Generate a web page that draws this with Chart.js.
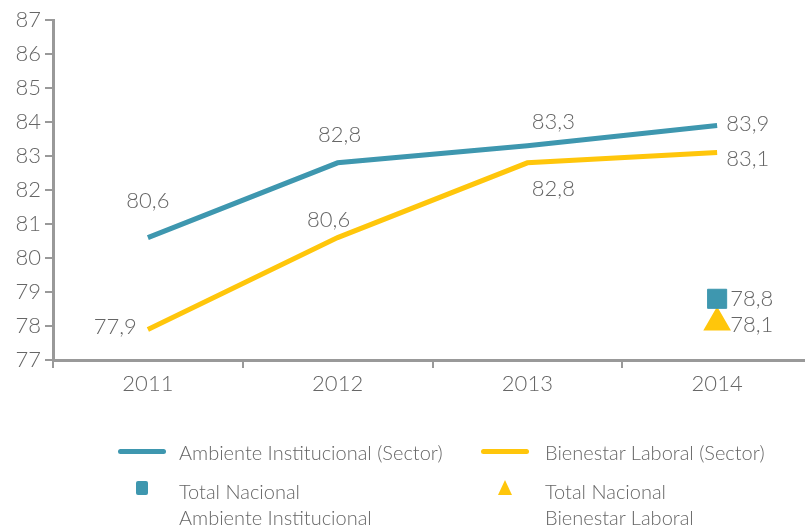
<!DOCTYPE html>
<html lang="es">
<head>
<meta charset="UTF-8">
<title>Ambiente y Bienestar</title>
<style>
  body { margin: 0; background: #fff; font-family: Lato, "Open Sans", sans-serif; font-weight: 300; overflow: hidden; }
  #wrap { position: relative; width: 805px; height: 526px; overflow: hidden; }
  #legend { position: absolute; left: 0; top: 0; width: 805px; height: 526px; pointer-events: none; color: #666; font-size: 20px; }
  .item { position: absolute; line-height: 26px; white-space: nowrap; }
  .swl { position: absolute; height: 5px; border-radius: 3px; }
</style>
</head>
<body>
<div id="wrap">
  <canvas id="myChart" width="828" height="526"></canvas>
  <div id="legend">
    <div class="swl" style="left:118px;top:449px;width:48px;background:#3E97AF"></div>
    <div class="item" style="left:179px;top:439px">Ambiente Institucional (Sector)</div>
    <div class="swl" style="left:481px;top:449px;width:48px;background:#FFC60B"></div>
    <div class="item" style="left:545px;top:439px">Bienestar Laboral (Sector)</div>
    <div style="position:absolute;left:136px;top:481px;width:12px;height:14px;border-radius:2px;background:#3E97AF"></div>
    <div class="item" style="left:179px;top:478px">Total Nacional<br>Ambiente Institucional</div>
    <div style="position:absolute;left:498px;top:480px;width:0;height:0;border-left:7px solid transparent;border-right:7px solid transparent;border-bottom:15px solid #FFC60B"></div>
    <div class="item" style="left:545px;top:478px">Total Nacional<br>Bienestar Laboral</div>
  </div>
</div>
<script src="https://cdn.jsdelivr.net/npm/chart.js"></script>
<script>
var years = ['2011', '2012', '2013', '2014']
var ambienteSector = [80.6, 82.8, 83.3, 83.9]
var bienestarSector = [77.9, 80.6, 82.8, 83.1]
var totalAmbiente = [null, null, null, 78.8]
var totalBienestar = [null, null, null, 78.1]

var teal = '#3E97AF'
var yellow = '#FFC60B'
var grey = '#666'
var fontFam = 'Lato, "Open Sans", sans-serif'

// label offsets per dataset/point: [dx, dy, align]
var labelPos = [
  [[0, -37, 'center'], [2, -28, 'center'], [26, -24, 'center'], [9, -1, 'left']],
  [[-11, -2, 'right'], [-9, -18, 'center'], [26, 26, 'center'], [9, 6, 'left']],
  [null, null, null, [13, 0, 'left']],
  [null, null, null, [13, 2, 'left']]
]

var valueLabels = {
  id: 'valueLabels',
  afterDatasetsDraw(chart) {
    var ctx = chart.ctx
    ctx.save()
    ctx.font = '300 22px ' + fontFam
    ctx.fillStyle = grey
    ctx.textBaseline = 'middle'
    chart.data.datasets.forEach(function (ds, i) {
      var meta = chart.getDatasetMeta(i)
      ds.data.forEach(function (v, j) {
        if (v === null) return
        var p = labelPos[i][j]
        var pt = meta.data[j]
        ctx.textAlign = p[2]
        ctx.fillText(v.toFixed(1).replace('.', ','), pt.x + p[0], pt.y + p[1])
      })
    })
    ctx.restore()
  }
}

var ctx = document.getElementById('myChart')
var myChart = new Chart(ctx, {
  type: 'line',
  data: {
    labels: years,
    datasets: [
      { label: 'Ambiente Institucional (Sector)', data: ambienteSector, borderColor: teal, borderWidth: 5, pointRadius: 0, tension: 0 },
      { label: 'Bienestar Laboral (Sector)', data: bienestarSector, borderColor: yellow, borderWidth: 5, pointRadius: 0, tension: 0 },
      { label: 'Total Nacional Ambiente Institucional', data: totalAmbiente, showLine: false, pointStyle: 'rect', pointRadius: 13.5, backgroundColor: teal, borderColor: teal, borderWidth: 1 },
      { label: 'Total Nacional Bienestar Laboral', data: totalBienestar, showLine: false, pointStyle: 'triangle', pointRadius: 14, backgroundColor: yellow, borderColor: yellow, borderWidth: 2 }
    ]
  },
  options: {
    responsive: false,
    animation: false,
    layout: { padding: { top: 20, right: 0, bottom: 126, left: 0 } },
    plugins: { legend: { display: false }, tooltip: { enabled: false } },
    scales: {
      x: {
        offset: true,
        grid: { display: true, drawOnChartArea: false, offset: true, color: '#999', lineWidth: 2, tickLength: 8 },
        border: { color: '#999', width: 3 },
        ticks: { color: grey, font: { size: 22, family: fontFam, weight: 300 }, padding: 3 },
        afterFit: function (s) { s.height = 40 }
      },
      y: {
        min: 77, max: 87,
        grid: { display: true, drawOnChartArea: false, color: '#999', lineWidth: 2, tickLength: 8 },
        border: { color: '#999', width: 3 },
        ticks: { stepSize: 1, color: grey, font: { size: 22, family: fontFam, weight: 300 }, padding: 4 },
        afterFit: function (s) { s.width = 53 }
      }
    }
  },
  plugins: [valueLabels]
})
</script>
</body>
</html>
